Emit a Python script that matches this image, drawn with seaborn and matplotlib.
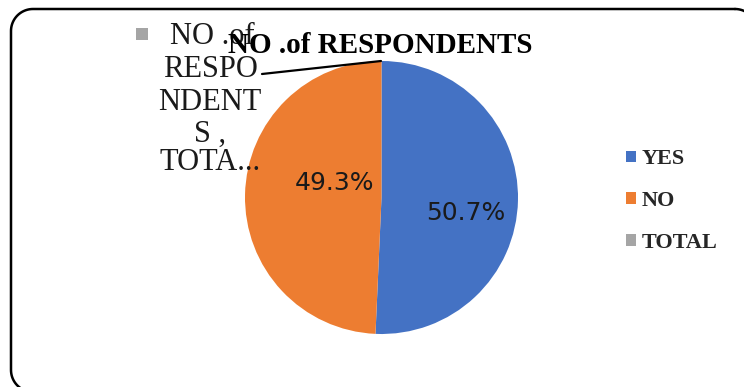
import matplotlib
matplotlib.use("Agg")
import matplotlib.pyplot as plt
import seaborn as sns
import numpy as np
from matplotlib.patches import Rectangle, Patch

# ---- data ----
categories = ["YES", "NO", "TOTAL"]
values = [50.7, 49.3, 0.0]
colors = ["#4472C4", "#ED7D31", "#A5A5A5"]
title = "NO .of RESPONDENTS"
total_label_lines = ["NO .of", "RESPO", "NDENT", "S ,", "TOTA..."]

sns.set_theme(style="white")
plt.rcParams["font.family"] = ["DejaVu Sans"]
palette = sns.color_palette(colors)

W, H = 744, 387
fig = plt.figure(figsize=(W / 100, H / 100), dpi=100)
ax = fig.add_axes([0, 0, 1, 1])

def Y(y):
    return H - y

cx, cy, r = 381.5, 197.5, 136.5

def pct(p):
    return "" if p < 0.05 else f"{p:.1f}%"

wedges, texts, autotexts = ax.pie(
    values, colors=palette, startangle=90, counterclock=False,
    center=(cx, Y(cy)), radius=r, autopct=pct,
    wedgeprops=dict(linewidth=0),
    textprops=dict(fontsize=18, color="#1a1a1a", family="DejaVu Sans"),
)
ax.set_xlim(0, W)
ax.set_ylim(0, H)
ax.set_aspect("equal")
ax.axis("off")

# percentage label positions (Excel best-fit placement)
autotexts[0].set_position((466, Y(213)))
autotexts[1].set_position((334, Y(183)))
for t in autotexts:
    t.set_ha("center")
    t.set_va("center")

# rounded chart border as a polyline (arcs sampled as line segments)
left, top, right, bottom, rad = 11, 9, 757, 392, 22
def arc(xc, yc, a0, a1):
    t = np.radians(np.linspace(a0, a1, 24))
    return list(zip(xc + rad * np.cos(t), yc + rad * np.sin(t)))
pts = []
pts += arc(right - rad, Y(top) - rad, 90, 0)        # top-right
pts += arc(right - rad, Y(bottom) + rad, 0, -90)    # bottom-right
pts += arc(left + rad, Y(bottom) + rad, 270, 180)   # bottom-left
pts += arc(left + rad, Y(top) - rad, 180, 90)       # top-left
pts.append(pts[0])
bx, by = zip(*pts)
ax.plot(bx, by, color="black", lw=1.8, zorder=0, clip_on=True,
        solid_joinstyle="round")

serif = "Liberation Serif"

# data label for TOTAL slice with legend key and leader line
ax.add_patch(Rectangle((136, Y(40)), 12, 12, facecolor=palette[2],
                       edgecolor="none", zorder=3))
ax.text(170, Y(44), total_label_lines[0], ha="left", va="baseline",
        fontsize=22, family=serif, color="#1a1a1a", zorder=3)
baselines = [77, 110, 142, 170]
for line, b in zip(total_label_lines[1:], baselines):
    ax.text(210, Y(b), line, ha="center", va="baseline",
            fontsize=22, family=serif, color="#1a1a1a", zorder=3)
ax.plot([262, 381], [Y(74), Y(61)], color="black", lw=1.6, zorder=4,
        solid_capstyle="round")

# title
ax.text(380, Y(53), title, ha="center", va="baseline", fontsize=21,
        fontweight="bold", family=serif, color="black", zorder=5)

# legend
handles = [Patch(facecolor=c, edgecolor="none") for c in palette]
fig.legend(handles, categories, loc="center left",
           bbox_to_anchor=(626 / W, 1 - 201 / H), frameon=False,
           borderpad=0, borderaxespad=0, handlelength=0.45,
           handleheight=0.45, handletextpad=0.25, labelspacing=0.97,
           prop=dict(family=serif, weight="bold", size=16))

fig.savefig("out.png", dpi=100, facecolor="white")
